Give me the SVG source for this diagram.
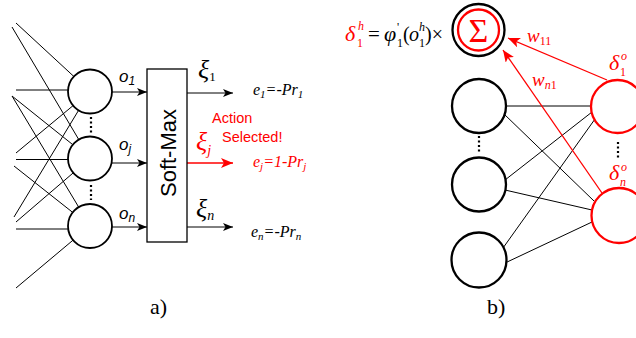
<svg xmlns="http://www.w3.org/2000/svg" width="636" height="338" viewBox="0 0 636 338">
<defs>
<marker id="ab" markerWidth="10" markerHeight="8" refX="10" refY="4" orient="auto" markerUnits="userSpaceOnUse"><path d="M0,0 L10,4 L0,8 L2.5,4 Z" fill="#000"/></marker>
<marker id="ar" markerWidth="12" markerHeight="10" refX="12" refY="5" orient="auto" markerUnits="userSpaceOnUse"><path d="M0,0 L12,5 L0,10 L3,5 Z" fill="#f00"/></marker>
</defs>
<style>
.ln{stroke:#000;stroke-width:1;fill:none}
.rl{stroke:#f00;stroke-width:1.3;fill:none}
.nc{fill:#fff;stroke:#000;stroke-width:1.8}
.hc{fill:#fff;stroke:#000;stroke-width:2.3}
.oc{fill:#fff;stroke:#f00;stroke-width:2.3}
.dot{stroke:#000;stroke-width:2.2;stroke-dasharray:2 2.5;fill:none}
.sans{font-family:"Liberation Sans",Arial,sans-serif}
.ser{font-family:"Liberation Serif","Times New Roman",serif}
.it{font-style:italic}
.red{fill:#f00}
</style>
<rect width="636" height="338" fill="#fff"/>
<g id="connectors">
<line class="ln" x1="16" y1="23" x2="73.9" y2="76.5"/>
<line class="ln" x1="16" y1="90" x2="68" y2="90"/>
<line class="ln" x1="16" y1="153" x2="73.1" y2="105.6"/>
<line class="ln" x1="14" y1="217" x2="78.6" y2="110.3"/>
<line class="ln" x1="12" y1="27" x2="78.8" y2="139.6"/>
<line class="ln" x1="12" y1="96" x2="72.8" y2="144.7"/>
<line class="ln" x1="16" y1="159.5" x2="68" y2="159.5"/>
<line class="ln" x1="16" y1="222" x2="73.3" y2="172.8"/>
<line class="ln" x1="12" y1="96" x2="78.7" y2="207.1"/>
<line class="ln" x1="14" y1="166" x2="72.7" y2="212.4"/>
<line class="ln" x1="16" y1="229" x2="68.2" y2="229"/>
<line class="ln" x1="16" y1="288" x2="73.1" y2="240.1"/>
<line class="ln" x1="112" y1="92" x2="147" y2="92" marker-end="url(#ab)"/>
<line class="ln" x1="112" y1="163" x2="147" y2="163" marker-end="url(#ab)"/>
<line class="ln" x1="112" y1="227" x2="147" y2="227" marker-end="url(#ab)"/>
<line class="ln" x1="187" y1="93" x2="233" y2="93" marker-end="url(#ab)"/>
<line class="rl" x1="187" y1="163" x2="233" y2="163" marker-end="url(#ar)"/>
<line class="ln" x1="187" y1="227" x2="233" y2="227" marker-end="url(#ab)"/>
<line class="ln" x1="506" y1="106" x2="591" y2="106"/>
<line class="ln" x1="504" y1="114" x2="594" y2="201"/>
<line class="ln" x1="505" y1="180" x2="592" y2="112"/>
<line class="ln" x1="505" y1="190" x2="592" y2="210"/>
<line class="ln" x1="503" y1="248" x2="595" y2="119"/>
<line class="ln" x1="505" y1="263" x2="592" y2="222"/>
<line class="rl" x1="607" y1="80" x2="508" y2="38" marker-end="url(#ar)"/>
<line class="rl" x1="602" y1="193" x2="503" y2="50" marker-end="url(#ar)"/>
</g>
<g id="n1"><circle class="nc" cx="90" cy="91.5" r="22"/></g>
<g id="n2"><circle class="nc" cx="90" cy="158.5" r="22"/></g>
<g id="n3"><circle class="nc" cx="90" cy="226" r="22"/></g>
<line class="dot" x1="91" y1="117" x2="91" y2="133"/>
<line class="dot" x1="91" y1="185" x2="91" y2="200"/>
<text class="sans it" x="119" y="82" font-size="17">o<tspan font-size="12" dy="3">1</tspan></text>
<text class="sans it" x="119" y="150" font-size="17">o<tspan font-size="12" dy="3">j</tspan></text>
<text class="sans it" x="119" y="219" font-size="17">o<tspan font-size="12" dy="3">n</tspan></text>
<g id="softmax">
<rect x="147" y="69" width="40" height="173" fill="#fff" stroke="#000" stroke-width="1.3"/>
<text class="sans" font-size="22" text-anchor="middle" transform="translate(176,153) rotate(-90)">Soft-Max</text>
</g>
<text class="ser it" x="198" y="78" font-size="26">ξ<tspan font-size="13" dy="3" font-style="normal">1</tspan></text>
<text class="ser it red" x="196" y="150" font-size="26">ξ<tspan font-size="14" dy="5">j</tspan></text>
<text class="ser it" x="196" y="217" font-size="26">ξ<tspan font-size="14" dy="3">n</tspan></text>
<text class="sans red" x="212" y="123" font-size="14.5">Action</text>
<text class="sans red" x="222" y="142" font-size="14.5">Selected!</text>
<text class="ser it" x="253" y="95" font-size="16">e<tspan font-size="11" dy="3">1</tspan><tspan dy="-3">=-Pr</tspan><tspan font-size="11" dy="3">1</tspan></text>
<text class="ser it red" x="253" y="167" font-size="16">e<tspan font-size="11" dy="3">j</tspan><tspan dy="-3">=1-Pr</tspan><tspan font-size="11" dy="3">j</tspan></text>
<text class="ser it" x="251" y="237" font-size="16">e<tspan font-size="11" dy="3">n</tspan><tspan dy="-3">=-Pr</tspan><tspan font-size="11" dy="3">n</tspan></text>
<text class="ser" x="150" y="314" font-size="22">a)</text>
<g id="sum">
<circle cx="478.5" cy="30" r="26" fill="#fff" stroke="#000" stroke-width="2.3"/>
<circle cx="478.5" cy="30" r="20.5" fill="#fff" stroke="#f00" stroke-width="2.3"/>
<text class="ser red" x="478.5" y="42" font-size="34" text-anchor="middle">Σ</text>
</g>
<text class="ser it red" x="345" y="41" font-size="22">δ</text>
<text class="ser it red" x="358" y="30" font-size="12">h</text>
<text class="ser red" x="357" y="47" font-size="12">1</text>
<text class="ser" x="368" y="41" font-size="21">=</text>
<text class="ser it" x="384" y="41" font-size="22">φ</text>
<text class="ser" x="397" y="31" font-size="12">'</text>
<text class="ser" x="397" y="47" font-size="12">1</text>
<text class="ser" x="403" y="41" font-size="20">(</text>
<text class="ser it" x="409" y="41" font-size="20">o</text>
<text class="ser it" x="419" y="31" font-size="12">h</text>
<text class="ser" x="419" y="47" font-size="12">1</text>
<text class="ser" x="425" y="41" font-size="20">)×</text>
<g id="h1"><circle class="hc" cx="479" cy="106" r="27"/></g>
<g id="h2"><circle class="hc" cx="479" cy="184.5" r="27"/></g>
<g id="h3"><circle class="hc" cx="479" cy="260" r="27.5"/></g>
<line class="dot" x1="479" y1="136" x2="479" y2="154"/>
<g id="o1"><circle class="oc" cx="617.5" cy="106.5" r="26.5"/></g>
<g id="o2"><circle class="oc" cx="619" cy="215.5" r="27.5"/></g>
<line class="dot" x1="618" y1="142" x2="618" y2="159"/>
<text class="ser it red" x="527" y="42" font-size="19">w<tspan font-size="12" dy="3" font-style="normal">11</tspan></text>
<text class="ser it red" x="532" y="86" font-size="19">w<tspan font-size="12" dy="3">n</tspan><tspan font-size="12" font-style="normal">1</tspan></text>
<text class="ser it red" x="609" y="70" font-size="22">δ</text>
<text class="ser it red" x="621" y="60" font-size="12">o</text>
<text class="ser red" x="620" y="76" font-size="12">1</text>
<text class="ser it red" x="609" y="180" font-size="22">δ</text>
<text class="ser it red" x="621" y="171" font-size="12">o</text>
<text class="ser it red" x="620" y="186" font-size="12">n</text>
<text class="ser" x="487" y="314" font-size="22">b)</text>
</svg>
